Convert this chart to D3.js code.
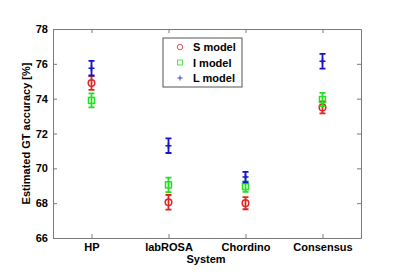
<!DOCTYPE html>
<html>
<head>
<meta charset="utf-8">
<script src="https://cdn.jsdelivr.net/npm/d3@7"></script>
<style>
  body { margin: 0; background: #fff; }
  svg text { font-family: "Liberation Sans", Arial, sans-serif; font-weight: bold; fill: #000; }
</style>
</head>
<body>
<div id="chart"></div>
<script>
const systems = ['HP', 'labROSA', 'Chordino', 'Consensus'];
const seriesNames = ['S model', 'I model', 'L model'];
const sMean = [74.9, 68.05, 68.0, 73.5];
const sErr = [0.4, 0.42, 0.35, 0.35];
const iMean = [73.9, 69.05, 68.95, 73.95];
const iErr = [0.4, 0.42, 0.3, 0.38];
const lMean = [75.75, 71.3, 69.5, 76.15];
const lErr = [0.42, 0.42, 0.3, 0.42];
const yTicks = [66, 68, 70, 72, 74, 76, 78];

const series = [
  { name: seriesNames[0], mean: sMean, err: sErr, color: '#e02424', shape: 'circle' },
  { name: seriesNames[1], mean: iMean, err: iErr, color: '#22e022', shape: 'square' },
  { name: seriesNames[2], mean: lMean, err: lErr, color: '#1414c8', shape: 'plus' }
];

const W = 400, H = 279;
const margin = { top: 29, right: 39, bottom: 41, left: 53 };
const width = W - margin.left - margin.right;
const height = H - margin.top - margin.bottom;

const svg = d3.select('#chart').append('svg')
  .attr('width', W).attr('height', H);
const g = svg.append('g').attr('transform', `translate(${margin.left},${margin.top})`);

const x = d3.scaleLinear().domain([0.5, 4.5]).range([0, width]);
const y = d3.scaleLinear().domain([66, 78]).range([height, 0]);

// Axes box with inward ticks
const axisColor = '#7a7a7a';
const yAxis = g.append('g')
  .call(d3.axisLeft(y).tickValues(yTicks).tickSizeInner(-4).tickSizeOuter(0).tickPadding(5));
const yAxisR = g.append('g').attr('transform', `translate(${width},0)`)
  .call(d3.axisRight(y).tickValues(yTicks).tickSizeInner(-4).tickSizeOuter(0).tickFormat(''));
const xAxis = g.append('g').attr('transform', `translate(0,${height})`)
  .call(d3.axisBottom(x).tickValues([1, 2, 3, 4]).tickSizeInner(-4).tickSizeOuter(0).tickPadding(5)
    .tickFormat((d, i) => systems[i]));
const xAxisT = g.append('g')
  .call(d3.axisTop(x).tickValues([1, 2, 3, 4]).tickSizeInner(-4).tickSizeOuter(0).tickFormat(''));
[yAxis, yAxisR, xAxis, xAxisT].forEach(a => {
  a.selectAll('path, line').attr('stroke', axisColor);
  a.selectAll('text').style('font-size', '11px').style('font-family', '"Liberation Sans", Arial, sans-serif')
    .style('font-weight', 'bold').attr('fill', '#000');
});

// Axis labels
svg.append('text')
  .attr('x', margin.left + width / 2 - 1).attr('y', 263)
  .attr('text-anchor', 'middle').style('font-size', '11px')
  .text('System');
svg.append('text')
  .attr('transform', `translate(30,${margin.top + height / 2}) rotate(-90)`)
  .attr('text-anchor', 'middle').style('font-size', '11px')
  .text('Estimated GT accuracy [%]');

function drawMarker(sel, shape, color, size, sw) {
  if (shape === 'circle') {
    sel.append('circle').attr('r', size * 0.55).attr('fill', 'none')
      .attr('stroke', color).attr('stroke-width', sw);
  } else if (shape === 'square') {
    sel.append('rect').attr('x', -size / 2).attr('y', -size / 2)
      .attr('width', size).attr('height', size).attr('fill', 'none')
      .attr('stroke', color).attr('stroke-width', sw);
  } else {
    sel.append('path').attr('d', `M${-size / 2},0H${size / 2}M0,${-size / 2}V${size / 2}`)
      .attr('stroke', color).attr('stroke-width', sw);
  }
}

// Error bars + markers
series.forEach(s => {
  const grp = g.append('g');
  const pts = grp.selectAll('g.pt').data(s.mean).enter().append('g').attr('class', 'pt');
  pts.append('path')
    .attr('d', (d, i) => {
      const cx = x(i + 1), top = y(d + s.err[i]), bot = y(d - s.err[i]);
      return `M${cx},${top}V${bot}M${cx - 3},${top}H${cx + 3}M${cx - 3},${bot}H${cx + 3}`;
    })
    .attr('stroke', s.color).attr('stroke-width', 1.8).attr('fill', 'none');
  pts.append('g')
    .attr('transform', (d, i) => `translate(${x(i + 1)},${y(d)})`)
    .each(function () { drawMarker(d3.select(this), s.shape, s.color, 6, 1.5); });
});

// Legend
const lg = svg.append('g').attr('transform', 'translate(163,38)');
lg.append('rect').attr('width', 79).attr('height', 49)
  .attr('fill', '#fff').attr('stroke', '#555').attr('stroke-width', 1);
series.forEach((s, i) => {
  const row = lg.append('g').attr('transform', `translate(0,${9 + i * 15.5})`);
  const m = row.append('g').attr('transform', 'translate(17,0)');
  drawMarker(m, s.shape, s.color, 5, 0.8);
  row.append('text').attr('x', 30).attr('y', 4).style('font-size', '11px').text(s.name);
});
</script>
</body>
</html>
